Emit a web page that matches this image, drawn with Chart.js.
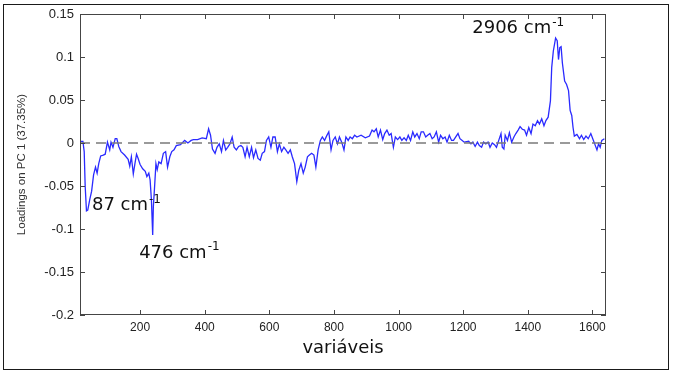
<!DOCTYPE html>
<html>
<head>
<meta charset="utf-8">
<script src="https://cdn.jsdelivr.net/npm/chart.js@4/dist/chart.umd.min.js"></script>
<style>
  html, body { margin: 0; padding: 0; background: #ffffff; }
  #wrap { position: relative; width: 673px; height: 374px; }
  #frame { position: absolute; left: 3px; top: 4px; width: 664px; height: 364px; border: 1.5px solid #1a1a1a; pointer-events: none; }
  canvas { position: absolute; left: 0; top: 0; }
</style>
</head>
<body>
<div id="wrap">
  <canvas id="c" width="673" height="374"></canvas>
  <div id="frame"></div>
</div>
<script>
// ---- data ----
const variables = [14,16,23,27,30,34,38,44,50,56,62,67,72,78,86,92,99,106,110,116,123,128,134,141,152,163,168,173,179,184,189,194,200,208,216,221,227,231,235,239,241,245,249,253,258,265,272,279,285,292,298,305,312,325,338,348,358,365,378,392,405,412,418,424,432,438,445,452,458,465,471,478,485,491,498,505,512,518,525,531,538,545,551,558,565,572,578,585,591,598,605,611,618,625,631,638,645,651,658,665,671,678,685,691,698,705,711,718,724,731,738,744,751,758,764,771,777,784,791,797,804,811,817,824,831,837,844,850,857,864,871,884,897,910,918,924,931,937,944,951,957,964,971,977,984,990,997,1004,1010,1017,1024,1030,1037,1044,1050,1057,1064,1070,1077,1084,1090,1097,1104,1110,1117,1124,1130,1137,1144,1150,1157,1164,1170,1177,1184,1190,1197,1203,1217,1224,1230,1237,1244,1250,1257,1263,1270,1277,1283,1290,1297,1303,1310,1317,1321,1326,1330,1337,1343,1350,1357,1363,1370,1376,1383,1390,1396,1403,1410,1416,1423,1430,1436,1443,1450,1456,1463,1470,1474,1479,1486,1491,1495,1499,1503,1507,1514,1520,1526,1531,1536,1540,1544,1552,1560,1566,1573,1580,1587,1595,1601,1607,1614,1619,1624,1629,1637];
const loadingsPC1 = [0.002,0.002,0.002,-0.01,-0.05,-0.079,-0.078,-0.066,-0.056,-0.037,-0.028,-0.035,-0.024,-0.015,-0.014,-0.013,0.001,-0.008,0.001,-0.005,0.005,0.005,-0.004,-0.01,-0.014,-0.019,-0.027,-0.016,-0.036,-0.024,-0.013,-0.018,-0.025,-0.03,-0.033,-0.039,-0.035,-0.043,-0.066,-0.107,-0.074,-0.05,-0.024,-0.031,-0.022,-0.024,-0.012,-0.01,-0.028,-0.016,-0.01,-0.008,-0.003,-0.002,0.003,0.0,0.003,0.004,0.004,0.006,0.005,0.0165,0.009,-0.007,-0.012,-0.005,-0.001,-0.01,0.003,-0.008,-0.005,-0.001,0.007,-0.005,-0.008,-0.004,-0.003,-0.005,-0.016,-0.005,-0.016,-0.005,-0.017,-0.008,-0.018,-0.02,-0.012,-0.01,0.003,0.007,-0.005,0.007,0.007,-0.01,-0.001,-0.01,-0.005,-0.008,-0.012,-0.008,-0.016,-0.024,-0.045,-0.032,-0.024,-0.035,-0.028,-0.016,-0.014,-0.012,-0.014,-0.028,-0.008,0.003,0.007,0.003,0.008,0.013,-0.008,0.003,0.007,-0.001,0.007,0.001,-0.008,0.007,0.003,0.007,0.005,0.009,0.007,0.009,0.006,0.008,0.015,0.013,0.0165,0.007,0.015,0.004,0.011,0.015,0.009,0.011,-0.005,0.007,0.004,0.007,0.003,0.006,0.003,0.009,0.003,0.013,0.007,0.011,0.005,0.013,0.013,0.007,0.009,0.011,0.005,0.007,0.013,0.001,0.009,0.005,0.007,0.001,0.009,0.003,0.003,0.007,0.011,0.005,0.003,0.001,0.002,-0.001,0.001,-0.004,0.001,-0.003,-0.005,0.001,-0.001,0.001,-0.005,0.0,-0.002,-0.005,0.003,0.011,-0.005,-0.007,0.009,0.003,0.012,0.001,0.007,0.011,0.015,0.019,0.016,0.015,0.009,0.018,0.011,0.022,0.02,0.026,0.022,0.028,0.02,0.026,0.03,0.049,0.088,0.107,0.122,0.119,0.097,0.111,0.112,0.093,0.072,0.068,0.061,0.038,0.032,0.018,0.008,0.010,0.005,0.009,0.004,0.008,0.005,0.011,0.005,-0.001,-0.008,-0.001,-0.005,0.003,0.005];
const xTickValues = [200,400,600,800,1000,1200,1400,1600];
const yTickValues = [-0.2,-0.15,-0.1,-0.05,0,0.05,0.1,0.15];
const yTickLabels = ['-0.2','-0.15','-0.1','-0.05','0','0.05','0.1','0.15'];
const peakLabels = ['87 cm', '476 cm', '2906 cm'];
const peakSup = ['-1', '-1', '-1'];
const xTitle = 'variáveis';
const yTitle = 'Loadings on PC 1 (37.35%)';

// ---- layout / style (kept apart from the data) ----
const X_MIN = 14, X_MAX = 1642;
const labelAnchors = [{x: 51, y: -0.073}, {x: 197, y: -0.128}, {x: 1228, y: 0.133}];

const points = variables.map((v, i) => ({x: v, y: loadingsPC1[i]}));
const zeroLine = [{x: X_MIN, y: 0}, {x: X_MAX, y: 0}];

const framePlugin = {
  id: 'framePlugin',
  afterDraw(chart) {
    const {ctx, chartArea: a, scales: {x, y}} = chart;
    ctx.save();
    ctx.strokeStyle = '#454545';
    ctx.lineWidth = 1;
    ctx.strokeRect(a.left + 0.5, a.top + 0.5, a.right - a.left - 1, a.bottom - a.top - 1);
    ctx.beginPath();
    xTickValues.forEach(v => {
      const px = Math.round(x.getPixelForValue(v)) + 0.5;
      ctx.moveTo(px, a.bottom); ctx.lineTo(px, a.bottom - 5);
      ctx.moveTo(px, a.top); ctx.lineTo(px, a.top + 5);
    });
    yTickValues.forEach(v => {
      const py = Math.round(y.getPixelForValue(v)) + 0.5;
      ctx.moveTo(a.left, py); ctx.lineTo(a.left + 5, py);
      ctx.moveTo(a.right, py); ctx.lineTo(a.right - 5, py);
    });
    ctx.stroke();
    // peak annotations
    ctx.fillStyle = '#111';
    ctx.textBaseline = 'middle';
    ctx.textAlign = 'left';
    peakLabels.forEach((t, i) => {
      const px = x.getPixelForValue(labelAnchors[i].x);
      const py = y.getPixelForValue(labelAnchors[i].y);
      ctx.font = '18px "DejaVu Sans"';
      ctx.fillText(t, px, py);
      const w = ctx.measureText(t).width;
      ctx.font = '12px "DejaVu Sans"';
      ctx.fillText(peakSup[i], px + w + 1, py - 6);
    });
    ctx.restore();
  }
};

new Chart(document.getElementById('c'), {
  type: 'line',
  data: {
    datasets: [
      {
        data: zeroLine,
        borderColor: '#7a7a7a',
        borderWidth: 1.5,
        borderDash: [10, 6],
        pointRadius: 0,
        fill: false
      },
      {
        data: points,
        borderColor: '#2a2aff',
        borderWidth: 1.3,
        pointRadius: 0,
        tension: 0,
        fill: false
      }
    ]
  },
  options: {
    responsive: false,
    animation: false,
    devicePixelRatio: 1,
    layout: { padding: { left: 0, right: 67, top: 14, bottom: 0 } },
    plugins: { legend: { display: false }, tooltip: { enabled: false } },
    scales: {
      x: {
        type: 'linear',
        min: X_MIN,
        max: X_MAX,
        afterBuildTicks: s => { s.ticks = xTickValues.map(v => ({value: v})); },
        afterFit: s => { s.height = 59; },
        grid: { display: false, drawTicks: false },
        border: { display: false },
        ticks: { padding: 5, color: '#222', font: { family: '"Liberation Sans"', size: 12 }, maxRotation: 0, callback: v => String(v) },
        title: { display: true, text: xTitle, color: '#111', font: { family: '"DejaVu Sans"', size: 18 }, padding: { top: 0, bottom: 15 } }
      },
      y: {
        type: 'linear',
        min: -0.2,
        max: 0.15,
        afterBuildTicks: s => { s.ticks = yTickValues.map(v => ({value: v})); },
        afterFit: s => { s.width = 80; },
        grid: { display: false, drawTicks: false },
        border: { display: false },
        ticks: { padding: 6, color: '#222', font: { family: '"Liberation Sans"', size: 13 },
          callback: (v) => { const i = yTickValues.findIndex(t => Math.abs(t - v) < 1e-9); return i >= 0 ? yTickLabels[i] : ''; } },
        title: { display: true, text: yTitle, color: '#333', font: { family: '"Liberation Sans"', size: 11.5 }, padding: { top: 15, bottom: 0 } }
      }
    }
  },
  plugins: [framePlugin]
});
</script>
</body>
</html>
